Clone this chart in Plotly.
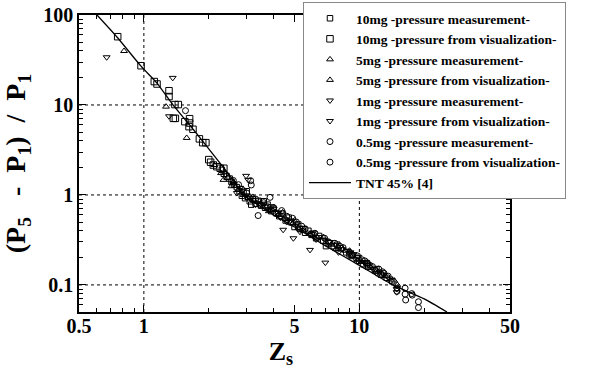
import plotly.graph_objects as go

# ---- data (Zs vs (P5-P1)/P1) ----
sq_meas_x = [2.3, 2.35, 2.42, 2.5, 2.55, 2.62, 2.7, 2.78, 2.85, 2.9, 2.95, 3.05, 3.1, 3.2, 3.3,
             3.4, 3.5, 3.65, 3.75, 3.9, 4.1, 4.25, 4.4, 4.55, 4.8, 5.0, 5.3, 5.6, 6.0, 6.3,
             6.8, 7.2, 7.6, 8.2, 8.7, 9.2, 9.7, 10.4, 11.0, 11.8, 12.6, 13.4, 14.2,
             3.0, 3.15, 3.6, 4.0, 4.7, 5.2, 5.8, 6.5, 7.0, 7.9, 9.0, 10.0, 10.8, 12.0]
sq_meas_y = [1.9, 1.72, 1.6, 1.52, 1.4, 1.3, 1.22, 1.1, 0.98, 1.08, 0.92, 0.95, 0.85, 0.9, 0.8,
             0.86, 0.76, 0.72, 0.78, 0.66, 0.63, 0.58, 0.62, 0.52, 0.5, 0.44, 0.42, 0.38, 0.36, 0.33,
             0.31, 0.29, 0.27, 0.255, 0.23, 0.21, 0.2, 0.17, 0.16, 0.145, 0.13, 0.12, 0.11,
             1.1, 0.78, 0.85, 0.7, 0.56, 0.47, 0.4, 0.35, 0.27, 0.28, 0.22, 0.185, 0.175, 0.15]
sq_vis_x = [0.756, 0.97, 1.118, 1.151, 1.308, 1.308, 1.394, 1.445, 1.37, 1.40, 1.55, 1.63,
            1.63, 1.62, 1.69, 1.81, 1.875, 1.94, 2.0, 2.04, 2.10, 2.18, 2.26, 2.35]
sq_vis_y = [57.4, 27.3, 18.2, 17.1, 14.4, 12.4, 10.1, 10.1, 7.1, 7.1, 6.52, 7.04,
            6.3, 5.74, 5.37, 4.2, 3.81, 3.81, 2.47, 2.31, 2.15, 2.06, 1.98, 1.98]

tu_meas_x = [2.12, 2.28, 2.45, 2.6, 2.75, 2.9, 3.05, 3.25, 3.5, 3.7, 3.95, 4.2, 4.5, 4.9, 5.2,
             5.5, 5.9, 6.4, 7.0, 7.4, 8.0, 8.6, 9.3, 10.2, 11.3, 12.2, 13.2, 14.5, 15.0,
             2.55, 3.2, 3.8, 4.4, 5.0, 6.1, 6.8, 7.8, 9.0, 9.8, 11.0, 12.8]
tu_meas_y = [2.15, 1.75, 1.55, 1.4, 1.15, 1.0, 0.92, 0.86, 0.8, 0.73, 0.68, 0.6, 0.56, 0.48, 0.43,
             0.4, 0.37, 0.335, 0.3, 0.28, 0.26, 0.24, 0.21, 0.18, 0.155, 0.14, 0.125, 0.112, 0.1,
             1.25, 0.95, 0.66, 0.64, 0.52, 0.36, 0.34, 0.25, 0.24, 0.19, 0.17, 0.13]
tu_vis_x = [0.809, 1.267, 1.58, 2.34]
tu_vis_y = [39.8, 9.58, 4.3, 1.47]

td_meas_x = [2.4, 2.6, 2.8, 2.98, 3.05, 3.1, 3.3, 3.55, 3.8, 4.0, 4.3, 4.43, 4.6, 4.94, 5.1,
             5.5, 5.9, 6.1, 6.5, 6.95, 7.0, 7.8, 8.3, 8.8, 9.4, 9.9, 10.8, 11.6, 12.4, 13.0,
             13.8, 14.9, 14.9,
             2.7, 3.4, 3.9, 4.2, 4.8, 5.3, 6.3, 7.3, 8.0, 9.1, 10.5, 12.0, 14.0]
td_meas_y = [1.68, 1.32, 1.2, 1.63, 1.47, 0.93, 0.78, 0.8, 0.67, 0.7, 0.56, 0.41, 0.5, 0.33, 0.47,
             0.43, 0.245, 0.38, 0.34, 0.177, 0.31, 0.28, 0.25, 0.24, 0.22, 0.205, 0.165, 0.15, 0.14, 0.13,
             0.118, 0.09, 0.083,
             1.05, 0.87, 0.75, 0.63, 0.52, 0.39, 0.32, 0.3, 0.23, 0.23, 0.18, 0.135, 0.11]
td_vis_x = [0.672, 1.361, 1.308]
td_vis_y = [33.9, 20.0, 7.49]

ci_meas_x = [2.6, 2.85, 3.0, 3.3, 3.6, 4.0, 4.36, 4.6, 5.1, 5.6, 6.22, 6.9, 7.7, 8.4, 9.0,
             9.8, 10.3, 10.9, 11.5, 12.3, 13.0, 13.6, 14.95, 14.95, 16.3, 16.3, 16.4, 17.5, 17.6,
             18.8, 18.8,
             2.75, 3.45, 3.75, 4.2, 4.9, 5.4, 6.0, 7.2, 8.1, 9.3, 10.6, 11.2, 12.8]
ci_meas_y = [1.45, 1.15, 1.05, 0.9, 0.82, 0.72, 0.67, 0.58, 0.5, 0.42, 0.375, 0.33, 0.29, 0.26, 0.23,
             0.21, 0.19, 0.175, 0.16, 0.15, 0.135, 0.125, 0.092, 0.085, 0.092, 0.079, 0.068, 0.08, 0.077,
             0.065, 0.056,
             1.3, 0.78, 0.74, 0.62, 0.55, 0.45, 0.37, 0.3, 0.27, 0.215, 0.185, 0.165, 0.14]
ci_vis_x = [1.56, 3.13, 3.15, 3.85, 3.39]
ci_vis_y = [8.65, 1.44, 1.29, 0.94, 0.59]

tnt_x = [0.606, 0.75, 0.97, 1.15, 1.365, 1.7, 2.1, 2.33, 2.6, 2.88, 3.46, 4.2, 5.0, 7.0, 10.0, 14.3, 20.0, 25.5]
tnt_y = [100, 57, 27, 17.5, 10, 5.3, 2.8, 2.05, 1.45, 1.02, 0.75, 0.56, 0.44, 0.27, 0.165, 0.1, 0.07, 0.05]

x_tickvals = [0.5, 1, 5, 10, 50]
x_ticktext = ["0.5", "1", "5", "10", "50"]
y_tickvals = [0.1, 1, 10, 100]
y_ticktext = ["0.1", "1", "10", "100"]
x_minor = [0.6, 0.7, 0.8, 0.9, 2, 3, 4, 6, 7, 8, 9, 20, 30, 40]
y_minor = [0.06, 0.07, 0.08, 0.09, 0.2, 0.3, 0.4, 0.5, 0.6, 0.7, 0.8, 0.9,
           2, 3, 4, 5, 6, 7, 8, 9, 20, 30, 40, 50, 60, 70, 80, 90]
x_grid = [1, 10]
y_grid = [0.1, 1, 10]
x_range = [0.5, 50]
y_range = [0.05, 100]

names = ["10mg -pressure measurement-", "10mg -pressure from visualization-",
         "5mg -pressure measurement-", "5mg -pressure from visualization-",
         "1mg -pressure measurement-", "1mg -pressure from visualization-",
         "0.5mg -pressure measurement-", "0.5mg -pressure from visualization-",
         "TNT 45% [4]"]

SERIF = "Liberation Serif, Times New Roman, serif"

fig = go.Figure()

# dotted grid lines (only at 1, 10 and 0.1, 1, 10)
for gx in x_grid:
    fig.add_trace(go.Scatter(x=[gx, gx], y=y_range, mode="lines",
                             line=dict(color="black", width=1, dash="dot"),
                             showlegend=False, hoverinfo="skip"))
for gy in y_grid:
    fig.add_trace(go.Scatter(x=x_range, y=[gy, gy], mode="lines",
                             line=dict(color="black", width=1, dash="dot"),
                             showlegend=False, hoverinfo="skip"))

series = [
    (sq_meas_x, sq_meas_y, "square-open", 5.5),
    (sq_vis_x, sq_vis_y, "square-open", 6.5),
    (tu_meas_x, tu_meas_y, "triangle-up-open", 6),
    (tu_vis_x, tu_vis_y, "triangle-up-open", 6),
    (td_meas_x, td_meas_y, "triangle-down-open", 6),
    (td_vis_x, td_vis_y, "triangle-down-open", 6),
    (ci_meas_x, ci_meas_y, "circle-open", 6),
    (ci_vis_x, ci_vis_y, "circle-open", 6),
]
for (sx, sy, sym, sz), nm in zip(series, names[:8]):
    fig.add_trace(go.Scatter(x=sx, y=sy, mode="markers", name=nm,
                             marker=dict(symbol=sym, size=sz, color="black",
                                         line=dict(color="black", width=1))))

fig.add_trace(go.Scatter(x=tnt_x, y=tnt_y, mode="lines", name=names[8],
                         line=dict(color="black", width=1.3, shape="spline", smoothing=0.6)))

axis_common = dict(
    type="log", showline=True, linecolor="black", linewidth=1.5, mirror="ticks",
    ticks="inside", ticklen=7, tickwidth=1, tickcolor="black",
    showgrid=False, zeroline=False, automargin=False, ticklabeloverflow="allow",
    tickfont=dict(family=SERIF, size=20, color="black", weight="bold"),
)

fig.update_layout(
    width=595, height=378,
    margin=dict(l=79, r=85, t=15, b=66, autoexpand=False),
    paper_bgcolor="white", plot_bgcolor="white",
    xaxis=dict(**axis_common, range=[-0.30103, 1.69897],
               tickmode="array", tickvals=x_tickvals, ticktext=x_ticktext,
               ticklabelstandoff=-5,
               minor=dict(tickmode="array", tickvals=x_minor, ticks="inside",
                          ticklen=4, tickcolor="black", showgrid=False),
               title=dict(text="Z<sub>s      </sub>", standoff=4,
                          font=dict(family=SERIF, size=26, color="black", weight="bold"))),
    yaxis=dict(**axis_common, range=[-1.30103, 2],
               tickmode="array", tickvals=y_tickvals, ticktext=y_ticktext,
               minor=dict(tickmode="array", tickvals=y_minor, ticks="inside",
                          ticklen=4, tickcolor="black", showgrid=False),
               title=dict(text="(P<sub>5</sub>   -  P<sub>1</sub>)  /  P<sub>1</sub>", standoff=10,
                          font=dict(family=SERIF, size=28, color="black", weight="bold"))),
    legend=dict(x=0.5197, y=1.0438, xanchor="left", yanchor="top",
                bgcolor="white", bordercolor="#888888", borderwidth=1,
                font=dict(family=SERIF, size=13.5, color="black", weight="bold"),
                itemwidth=42, tracegroupgap=0, maxheight=360),
    showlegend=True,
)

# remove the browser's default 8px page margin so the figure sits at (0, 0)
fig.write_html("out.html", config={"displayModeBar": False},
               post_script="document.body.style.margin='0px';")
